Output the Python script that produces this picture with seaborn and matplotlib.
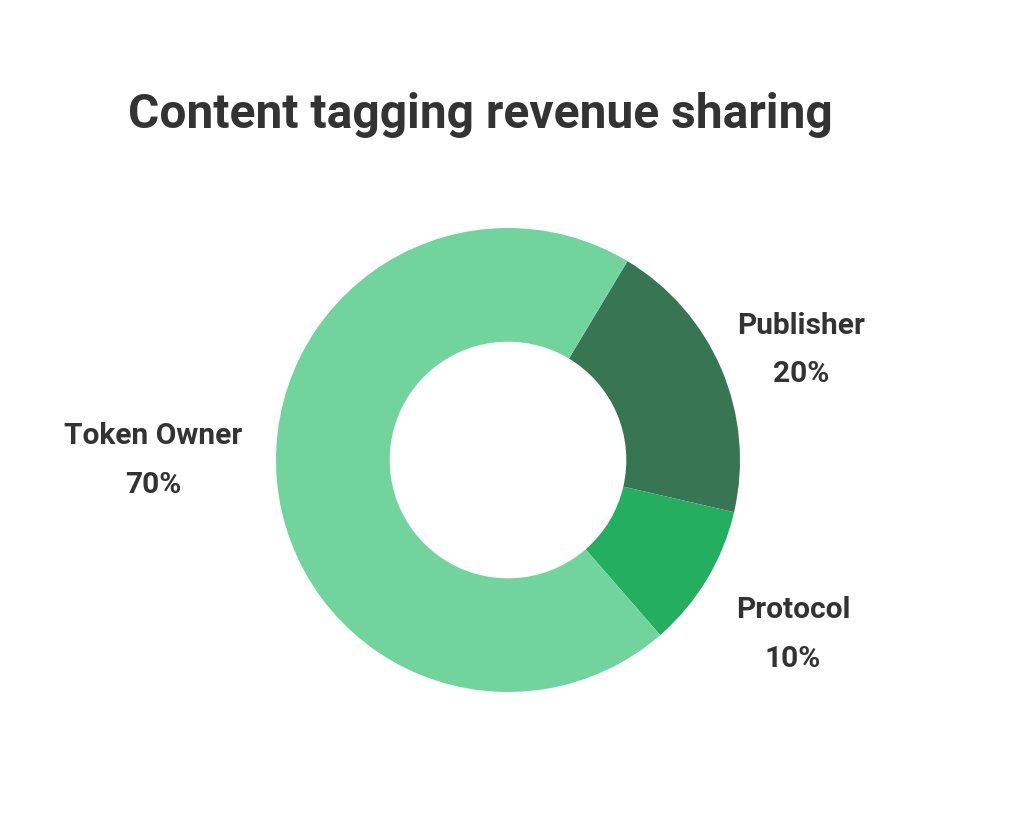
import seaborn as sns
import matplotlib.pyplot as plt
import numpy as np

# Datos
categorias = ['Publisher', 'Protocol', 'Token Owner']
porcentajes = [20, 10, 70]
colores = ['#387553', '#24AF60', '#72D49D']

sns.set_theme(style="white")
plt.rcParams['font.family'] = ['Roboto', 'DejaVu Sans']

fig = plt.figure(figsize=(10.25, 8.13), dpi=100)
ax = fig.add_axes([0, 0, 1, 1])

wedges, _ = ax.pie(porcentajes, colors=colores, startangle=59, counterclock=False,
                   radius=1, wedgeprops=dict(width=0.49, linewidth=0))

# escala: 1 unidad = 232 px, centro del donut en (508, 460)
r_px = 232
cx, cy = 508, 460
ax.set_xlim(-cx / r_px, (1025 - cx) / r_px)
ax.set_ylim(-(813 - cy) / r_px, cy / r_px)
ax.set_aspect('equal')
ax.axis('off')

# etiquetas fuera del anillo (distancia radial y pequeño giro en grados)
distancias = [1.35, 1.44, 1.53]
giros = [-2.4, -0.5, -4.9]
for w, cat, val, d, g in zip(wedges, categorias, porcentajes, distancias, giros):
    ang = np.deg2rad((w.theta1 + w.theta2) / 2 + g)
    x, y = d * np.cos(ang), d * np.sin(ang)
    ax.text(x, y, f'{cat}\n{val}%', ha='center', va='center', fontsize=21.5,
            fontweight='bold', color='#333333', linespacing=1.93)

fig.text(480 / 1025, 1 - 115 / 813, 'Content tagging revenue sharing', ha='center',
         va='center', fontsize=34.5, fontweight='bold', color='#333333')

plt.savefig('out.png', dpi=100)
